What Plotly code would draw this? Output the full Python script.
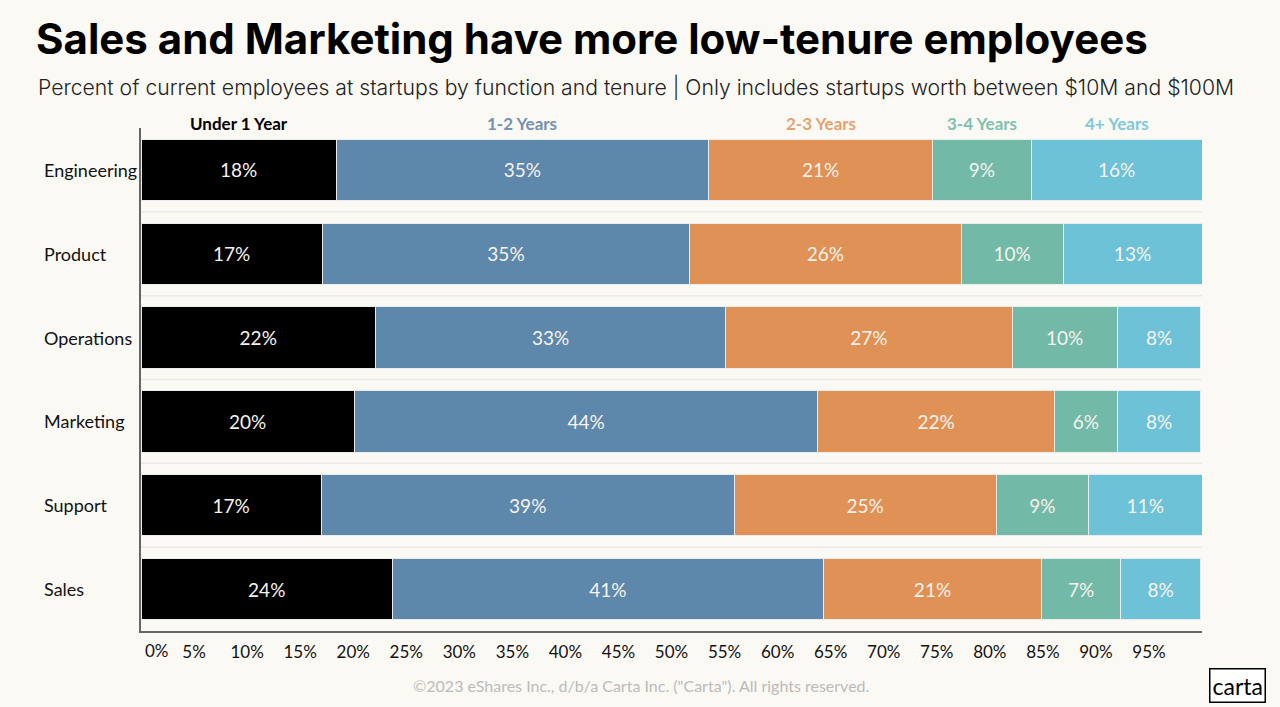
import plotly.graph_objects as go

# data
functions = ["Engineering", "Product", "Operations", "Marketing", "Support", "Sales"]
tenures = ["Under 1 Year", "1-2 Years", "2-3 Years", "3-4 Years", "4+ Years"]
under_1 = [18.4, 17.1, 22.1, 20.1, 17.0, 23.7]
yrs_1_2 = [35.1, 34.6, 33.0, 43.7, 38.9, 40.6]
yrs_2_3 = [21.1, 25.6, 27.0, 22.3, 24.7, 20.6]
yrs_3_4 = [9.3, 9.6, 9.9, 5.9, 8.7, 7.4]
yrs_4_plus = [16.1, 13.1, 7.9, 7.9, 10.7, 7.6]
x_ticks = list(range(5, 100, 5))

series = [under_1, yrs_1_2, yrs_2_3, yrs_3_4, yrs_4_plus]
bar_colors = ["#000000", "#5E87AC", "#E09155", "#72B9A7", "#6DC2D8"]
head_colors = ["#000000", "#7191B0", "#E4A271", "#7FC1B0", "#7FC9DD"]
bg = "#FBF9F4"
font = "Lato"

# plot area in pixels, used to place the free text
L, R, T, B = 141, 1202, 128, 631


def px(x):
    return (x - L) / (R - L)


def py(y):
    return (B - y) / (B - T)


fig = go.Figure()
for name, vals, col in zip(tenures, series, bar_colors):
    fig.add_trace(go.Bar(
        y=functions, x=vals, name=name, orientation="h",
        marker=dict(color=col, line=dict(color="#E9ECEC", width=1)),
        text=[f"{round(v)}%" for v in vals],
        textposition="inside", insidetextanchor="middle",
        textfont=dict(family=font, size=19, color="#F7F3EC"),
        hoverinfo="x+y+name",
    ))

# column headers centred over the Engineering segments
left = 0
for name, vals, col in zip(tenures, series, head_colors):
    mid = left + vals[0] / 2
    left += vals[0]
    fig.add_annotation(x=mid, y=py(124), xref="x", yref="paper", yanchor="middle",
                       text=f"<b>{name}</b>", showarrow=False,
                       font=dict(family=font, size=17, color=col))

# left-aligned row labels
for f in functions:
    fig.add_annotation(x=px(42), y=f, xref="paper", yref="y", xanchor="left",
                       yanchor="middle", text=f, showarrow=False,
                       font=dict(family=font, size=18, color="#111"))

# faint separators between rows
for i in range(len(functions) - 1):
    fig.add_shape(type="line", xref="paper", x0=0, x1=1, yref="y",
                  y0=i + 0.5, y1=i + 0.5, line=dict(color="#ECEAE4", width=1.5),
                  layer="below")

fig.add_annotation(x=0, y=py(650), xref="x", yref="paper", xanchor="left",
                   yanchor="middle", xshift=2, text="0%", showarrow=False,
                   font=dict(family=font, size=17, color="#111"))

fig.update_layout(
    width=1280, height=707,
    margin=dict(l=L, r=1280 - R, t=T, b=707 - B),
    paper_bgcolor=bg, plot_bgcolor=bg,
    barmode="stack", bargap=0.27, showlegend=False,
    title=dict(text="<b>Sales and Marketing have more low-tenure employees</b>",
               x=36 / 1280, xanchor="left", y=1 - 39 / 707, yanchor="middle",
               font=dict(family="Inter", size=42, color="#000")),
    xaxis=dict(range=[0, 100], tickvals=x_ticks,
               ticktext=[f"{t}%" for t in x_ticks],
               showgrid=False, zeroline=False, showline=True,
               linecolor="#666", linewidth=1.5, ticks="outside",
               ticklen=5, tickcolor="rgba(0,0,0,0)",
               tickfont=dict(family=font, size=17, color="#111")),
    yaxis=dict(categoryorder="array", categoryarray=functions,
               autorange="reversed", showgrid=False, showline=True,
               linecolor="#666", linewidth=1.5, ticks="",
               showticklabels=False),
)

fig.add_annotation(x=px(36), y=py(87), xref="paper", yref="paper",
                   xanchor="left", yanchor="middle", showarrow=False,
                   text="Percent of current employees at startups by function and tenure | Only includes startups worth between $10M and $100M",
                   font=dict(family="Inter", size=21.2, weight=300, color="#222"))
fig.add_annotation(x=px(641), y=py(685), xref="paper", yref="paper",
                   xanchor="center", yanchor="middle", showarrow=False,
                   text='©2023 eShares Inc., d/b/a Carta Inc. ("Carta"). All rights reserved.',
                   font=dict(family=font, size=16, color="#BBBBBB"))
fig.add_annotation(x=px(1237), y=py(685), xref="paper", yref="paper",
                   xanchor="center", yanchor="middle", showarrow=False,
                   text="carta", bordercolor="#000", borderwidth=1.5, borderpad=2,
                   bgcolor="#FFFFFF",
                   font=dict(family=font, size=23, color="#000"))

fig.write_html("out.html", config={"displayModeBar": False},
               post_script="document.body.style.margin='0px';")
